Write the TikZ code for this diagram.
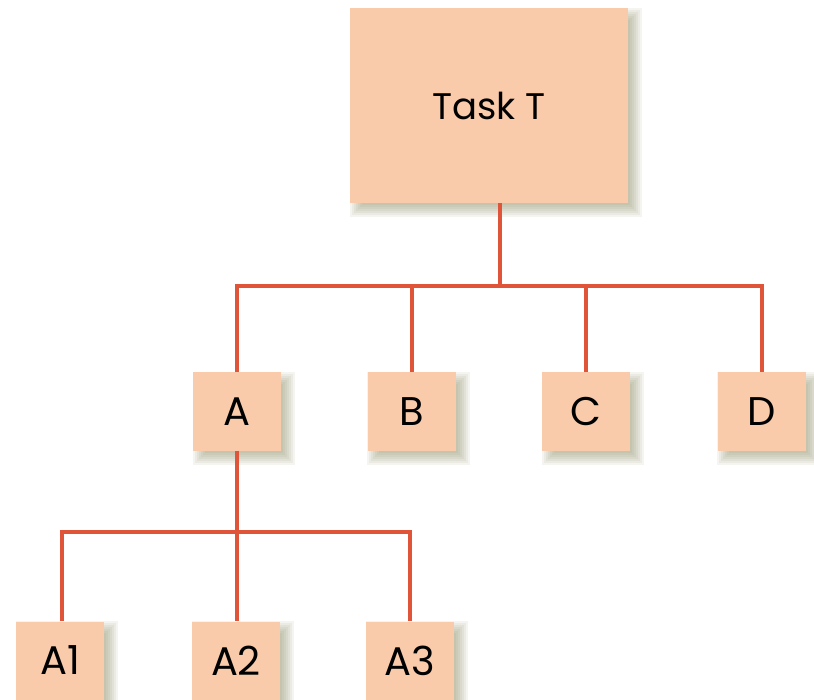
\documentclass[tikz,border=0pt]{standalone}
\usepackage{fontspec}
\setmainfont{Poppins}
\usetikzlibrary{backgrounds}
\definecolor{boxfill}{HTML}{F9CBAA}
\definecolor{linkred}{HTML}{E0543A}
\definecolor{shadowc}{HTML}{767646}
\tikzset{
  taskbox/.style={fill=boxfill, draw=none, inner sep=0pt, minimum width=88pt, minimum height=78pt, font=\fontsize{40}{42}\selectfont},
  rootbox/.style={taskbox, minimum width=278pt, minimum height=195pt, font=\fontsize{37}{40}\selectfont},
  link/.style={draw=linkred, line width=4pt}
}
\begin{document}
\begin{tikzpicture}[x=1pt, y=-1pt]
  \useasboundingbox (0,0) rectangle (814,700);
  \clip (0,0) rectangle (814,700);
  % boxes
  \node[rootbox] (T) at (489,105.5) {Task T};
  \node[taskbox] (A) at (237,411.5) {A};
  \node[taskbox] (B) at (411.5,411.5) {B};
  \node[taskbox] (C) at (586,411.5) {C};
  \node[taskbox] (D) at (761.5,411.5) {D};
  \node[taskbox] (A1) at (60,660.5) {A1};
  \node[taskbox] (A2) at (236,660.5) {A2};
  \node[taskbox] (A3) at (410,660.5) {A3};
  % soft drop shadows behind the boxes, falling to the lower right
  \begin{scope}[on background layer]
    \foreach \n in {T,A,B,C,D,A1,A2,A3}{
      \foreach \e in {-7,-5,...,7}{
        \fill[shadowc, opacity=0.08]
          ([shift={(7-\e,7-\e)}]\n.north west) rectangle ([shift={(7+\e,7+\e)}]\n.south east);
      }
    }
  \end{scope}
  % connectors
  \coordinate (bar1) at (0,286.5);
  \coordinate (bar2) at (0,532);
  \draw[link] ([xshift=11pt]T.south) -- ([xshift=11pt]T.south |- bar1);
  \draw[link] (A.north) |- (bar1 -| D.north) -- (D.north);
  \draw[link] (B.north) -- (B.north |- bar1);
  \draw[link] (C.north) -- (C.north |- bar1);
  \draw[link] (A.south) -- (A.south |- bar2);
  \draw[link] ([xshift=2pt]A1.north) |- (bar2 -| A3.north) -- (A3.north);
  \draw[link] ([xshift=1pt]A2.north) -- ([xshift=1pt]A2.north |- bar2);
\end{tikzpicture}
\end{document}
